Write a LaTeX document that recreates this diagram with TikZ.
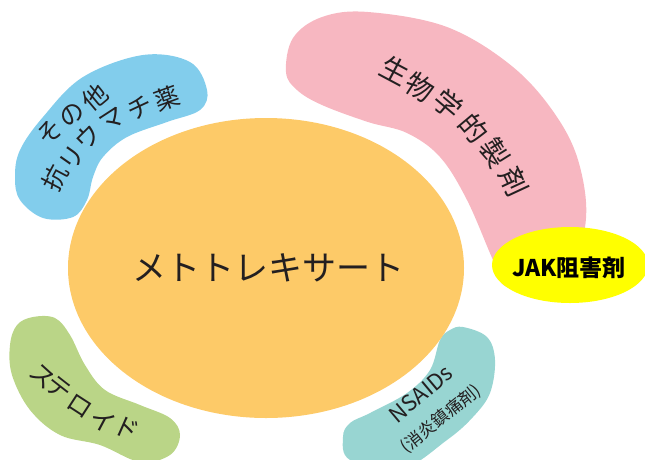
\documentclass[tikz,border=0pt]{standalone}
\usepackage{fontspec}
\usetikzlibrary{shapes.geometric}
\newfontfamily\jpfont{Noto Sans CJK JP}
\definecolor{mtxorange}{RGB}{253,202,104}
\definecolor{dmardblue}{RGB}{130,205,236}
\definecolor{biopink}{RGB}{247,183,193}
\definecolor{jakyellow}{RGB}{255,255,0}
\definecolor{steroidgreen}{RGB}{186,213,135}
\definecolor{nsaidteal}{RGB}{152,213,210}
\definecolor{txtgray}{RGB}{35,31,32}
\tikzset{
  jp/.style={text=txtgray, inner sep=0pt, font=\jpfont\fontsize{#1}{#1}\selectfont},
  jp/.default=26,
  jpbold/.style={text=black, inner sep=0pt, font=\jpfont\bfseries\fontsize{#1}{#1}\selectfont},
}
\begin{document}
\begin{tikzpicture}[x=1pt,y=-1pt]
\useasboundingbox (0,0) rectangle (645,459);
\clip (0,0) rectangle (645,459);
% blobs
\fill[dmardblue] plot[smooth cycle, tension=0.6] coordinates {(15,177) (20,150) (43,117) (83,77) (143,55) (190,62) (207,90) (200,110) (167,122) (127,137) (103,157) (93,177) (87,200) (73,217) (43,218) (20,200)};
\fill[biopink] plot[smooth cycle, tension=0.6] coordinates {(286,72) (293,38) (322,17) (368,12) (447,27) (513,67) (557,117) (580,167) (585,227) (560,290) (507,287) (493,260) (467,200) (440,157) (407,133) (368,122) (322,105) (297,90)};
\fill[steroidgreen] plot[smooth cycle, tension=0.6] coordinates {(33,317) (55,318) (70,335) (85,365) (105,390) (140,405) (170,418) (180,435) (170,455) (140,462) (100,445) (60,435) (30,410) (12,375) (10,345) (17,325)};
\fill[nsaidteal] plot[smooth cycle, tension=0.6] coordinates {(463,327) (487,337) (495,360) (490,393) (473,417) (447,440) (400,470) (350,460) (343,437) (350,423) (370,413) (407,393) (430,370) (440,340) (450,330)};
\fill[mtxorange] (266,268) ellipse [x radius=198, y radius=150];
\node[fill=jakyellow, ellipse, minimum width=156pt, minimum height=76pt, inner sep=0pt] (jak) at (570,265) {};
% labels
\node[jp=34] (mtx) at (268,268) {メトトレキサート};
\node[jpbold=23] (jaktxt) at (569,268) {JAK阻害剤};
\foreach \x/\y/\a/\c [count=\i] in {50/132/45/そ, 72/115/42/の, 95/97/40/他} \node[jp=25, rotate=\a] (ot\i) at (\x,\y) {\c};
\foreach \x/\y/\a/\c [count=\i] in {55/178/62/抗, 72/158/55/リ, 88/137/45/ウ, 113/120/33/マ, 140/108/25/チ, 167/98/20/薬} \node[jp=25, rotate=\a] (rh\i) at (\x,\y) {\c};
\foreach \x/\y/\a/\c [count=\i] in {395/70/-28/生, 420/87/-33/物, 448/104/-40/学, 474/128/-50/的, 495/153/-58/製, 514/182/-65/剤} \node[jp=28, rotate=\a] (bio\i) at (\x,\y) {\c};
\foreach \x/\y/\a/\c [count=\i] in {42/377/-42/ス, 59/388/-38/テ, 80/406/-33/ロ, 103/421/-28/イ, 127/428/-24/ド} \node[jp=25, rotate=\a] (st\i) at (\x,\y) {\c};
\node[jp=22, rotate=40] (nsaid) at (421,394) {NSAIDs};
\node[jp=17, rotate=39] (nsaidjp) at (441,419) {(消炎鎮痛剤)};
\end{tikzpicture}
\end{document}
